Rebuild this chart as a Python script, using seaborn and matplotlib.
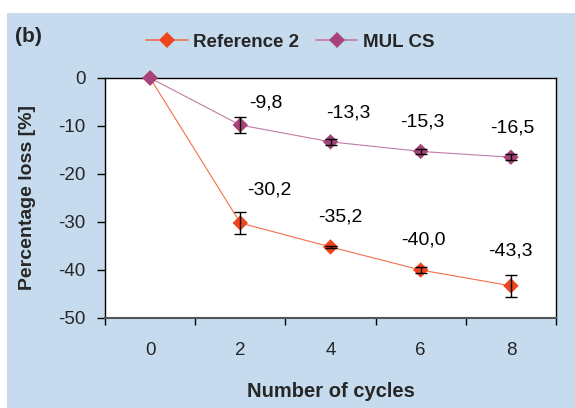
import matplotlib
matplotlib.use("Agg")
import matplotlib.pyplot as plt
from matplotlib.patches import Rectangle
from matplotlib.lines import Line2D
import pandas as pd
import seaborn as sns

# Data
cycles = [0, 2, 4, 6, 8]
series_names = ["Reference 2", "MUL CS"]
ref2_loss = [0.0, -30.2, -35.2, -40.0, -43.3]
ref2_err = [0.0, 2.3, 0.3, 0.7, 2.3]
mul_loss = [0.0, -9.8, -13.3, -15.3, -16.5]
mul_err = [0.0, 1.6, 0.6, 0.6, 0.6]
y_ticks = [0, -10, -20, -30, -40, -50]

marker_colors = {"Reference 2": "#f0441f", "MUL CS": "#a8427a"}
line_colors = {"Reference 2": "#f46f4c", "MUL CS": "#c27aa3"}
# label offsets in pixels (dx, dy) relative to each point
ref2_label_offsets = [None, (29, 33), (10, 30), (3, 30), (-1, 35)]
mul_label_offsets = [None, (26, 22), (18, 29), (2, 29), (1, 29)]

df = pd.DataFrame({
    "cycle": cycles * 2,
    "loss": ref2_loss + mul_loss,
    "series": [series_names[0]] * len(cycles) + [series_names[1]] * len(cycles),
})

sns.set_theme(style="white")
plt.rcParams["font.family"] = ["Liberation Sans", "DejaVu Sans"]
plt.rcParams["axes.unicode_minus"] = False

fig = plt.figure(figsize=(5.75, 4.08), dpi=100)
fig.patch.set_facecolor("white")
fig.patches.append(Rectangle((7 / 575, 0), 568 / 575, 395 / 408,
                             transform=fig.transFigure, facecolor="#c6dbee",
                             edgecolor="none", zorder=-10))

ax = fig.add_axes([105 / 575, 1 - 318 / 408, 451 / 575, 240 / 408])
ax.set_facecolor("white")

sns.lineplot(data=df, x="cycle", y="loss", hue="series", palette=line_colors,
             linewidth=0.8, ax=ax, legend=False)
sns.scatterplot(data=df, x="cycle", y="loss", hue="series", palette=marker_colors,
                marker="D", s=62, linewidth=0, ax=ax, legend=False, zorder=4,
                clip_on=False)

for vals, errs in ((ref2_loss, ref2_err), (mul_loss, mul_err)):
    xs = [c for c, e in zip(cycles, errs) if e > 0]
    ys = [v for v, e in zip(vals, errs) if e > 0]
    es = [e for e in errs if e > 0]
    ax.errorbar(xs, ys, yerr=es, fmt="none", ecolor="black", elinewidth=1,
                capsize=4, capthick=1, zorder=5)

for vals, offs in ((ref2_loss, ref2_label_offsets), (mul_loss, mul_label_offsets)):
    for c, v, o in zip(cycles, vals, offs):
        if o is None:
            continue
        ax.annotate(f"{v:.1f}".replace(".", ","), xy=(c, v), xytext=o,
                    textcoords="offset pixels", ha="center", va="center",
                    fontsize=14, color="black")

ax.set_xlim(-1, 9)
ax.set_ylim(-50, 0)
ax.set_xticks(cycles)
ax.set_xticks([-1, 1, 3, 5, 7, 9], minor=True)
ax.set_yticks(y_ticks)
ax.set_xticklabels([str(c) for c in cycles])
ax.set_yticklabels([str(t) for t in y_ticks])
ax.tick_params(axis="x", which="major", length=0, labelsize=13.5, pad=17)
ax.tick_params(axis="x", which="minor", length=5, width=1, direction="out",
               color="black", bottom=True)
ax.tick_params(axis="y", length=6, width=1, direction="out", left=True,
               labelsize=13.5, pad=8, color="black")

for side in ("top", "right", "left"):
    ax.spines[side].set_color("black")
    ax.spines[side].set_linewidth(1)
ax.spines["bottom"].set_color("#555555")
ax.spines["bottom"].set_linewidth(1.5)

ax.set_xlabel("Number of cycles", fontsize=14.5, fontweight="bold", labelpad=17)
ax.set_ylabel("Percentage loss [%]", fontsize=14, fontweight="bold", labelpad=16)

handles = [Line2D([], [], color=line_colors[n], lw=1.2, marker="D", markersize=8,
                  markerfacecolor=marker_colors[n], markeredgewidth=0)
           for n in series_names]
fig.legend(handles, series_names, loc="center", bbox_to_anchor=(0.505, 1 - 42 / 408),
           ncol=2, frameon=False, prop={"weight": "bold", "size": 13.5},
           handlelength=2.2, columnspacing=0.9, handletextpad=0.3)

fig.text(15 / 575, 1 - 36 / 408, "(b)", fontsize=15, fontweight="bold",
         ha="left", va="center")

fig.savefig("out.png", dpi=100)
